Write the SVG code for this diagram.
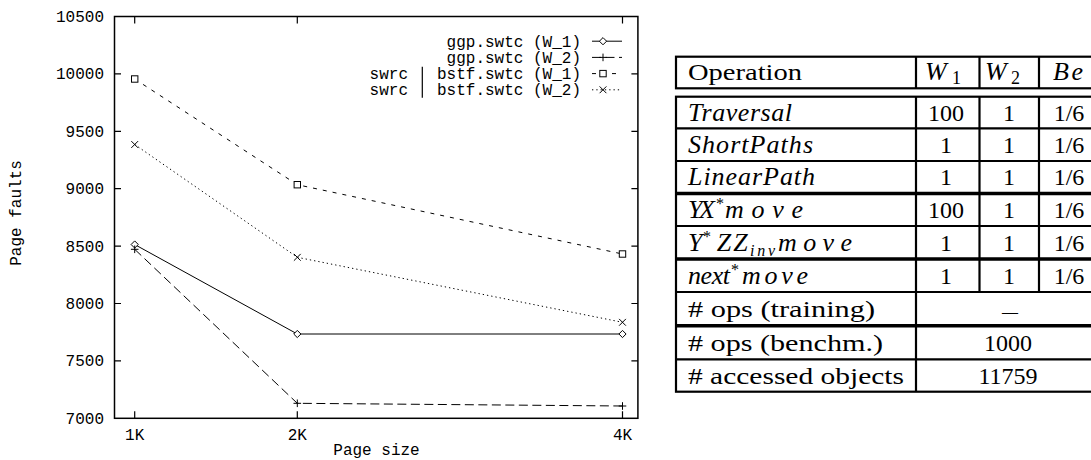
<svg xmlns="http://www.w3.org/2000/svg" xmlns:xlink="http://www.w3.org/1999/xlink" width="1091" height="460" viewBox="0 0 1091 460">
<style>
.mono{font-family:"Liberation Mono","Courier New",monospace;font-size:16px;fill:#000}
.ser{font-family:"Liberation Serif","Times New Roman",serif;font-size:24px;fill:#000}
.it{font-style:italic;font-size:26px}
.ax{fill:none;stroke:#000;stroke-width:1.5}
.tk{stroke:#000;stroke-width:1.2}
.l1{fill:none;stroke:#000;stroke-width:1}
.l2{fill:none;stroke:#000;stroke-width:1;stroke-dasharray:9,4.5}
.l3{fill:none;stroke:#000;stroke-width:1;stroke-dasharray:4,6}
.l4{fill:none;stroke:#000;stroke-width:1;stroke-dasharray:1.3,3}
.mk{fill:#fff;stroke:#000;stroke-width:1}
.tb{stroke:#000;stroke-width:2.2;fill:none}
.tbk{stroke:#000;stroke-width:3.6;fill:none}
</style>
<defs>
<path id="dia" d="M0,-3.6L3.6,0L0,3.6L-3.6,0Z" class="mk"/>
<path id="pls" d="M-3.8,0H3.8M0,-3.8V3.8" class="mk"/>
<rect id="sq" x="-3.2" y="-3.2" width="6.4" height="6.4" class="mk"/>
<path id="crs" d="M-3.4,-3.4L3.4,3.4M-3.4,3.4L3.4,-3.4" class="mk"/>
</defs>
<rect width="1091" height="460" fill="#fff"/>
<g id="plot">
<rect class="ax" x="114.5" y="16.5" width="523.4" height="401.8"/>
<g class="tk">
<path d="M114.5,73.9h6.5M114.5,131.3h6.5M114.5,188.7h6.5M114.5,246.1h6.5M114.5,303.5h6.5M114.5,360.9h6.5"/>
<path d="M637.9,73.9h-6.5M637.9,131.3h-6.5M637.9,188.7h-6.5M637.9,246.1h-6.5M637.9,303.5h-6.5M637.9,360.9h-6.5"/>
<path d="M134.7,418.3v-7M297.3,418.3v-7M622.5,418.3v-7M134.7,16.5v7M297.3,16.5v7M622.5,16.5v7"/>
</g>
<g class="mono" text-anchor="end">
<text x="104" y="22">10500</text>
<text x="104" y="79.4">10000</text>
<text x="104" y="136.8">9500</text>
<text x="104" y="194.2">9000</text>
<text x="104" y="251.6">8500</text>
<text x="104" y="309">8000</text>
<text x="104" y="366.4">7500</text>
<text x="104" y="423.8">7000</text>
</g>
<g class="mono" text-anchor="middle">
<text x="134.7" y="440">1K</text>
<text x="297.3" y="440">2K</text>
<text x="622.5" y="440">4K</text>
<text x="376.5" y="455">Page size</text>
<text transform="translate(20.5,213) rotate(-90)">Page faults</text>
</g>
</g>
<g id="series">
<polyline class="l1" points="134.7,244.5 297.3,334 622.5,334"/>
<polyline class="l2" points="134.7,249.3 297.3,403.3 622.5,406"/>
<polyline class="l3" points="134.7,79 297.3,184.7 622.5,254"/>
<polyline class="l4" points="134.7,144.5 297.3,257.3 622.5,322.3"/>
<use xlink:href="#dia" x="134.7" y="244.5"/><use xlink:href="#dia" x="297.3" y="334"/><use xlink:href="#dia" x="622.5" y="334"/>
<use xlink:href="#pls" x="134.7" y="249.3"/><use xlink:href="#pls" x="297.3" y="403.3"/><use xlink:href="#pls" x="622.5" y="406"/>
<use xlink:href="#sq" x="134.7" y="79"/><use xlink:href="#sq" x="297.3" y="184.7"/><use xlink:href="#sq" x="622.5" y="254"/>
<use xlink:href="#crs" x="134.7" y="144.5"/><use xlink:href="#crs" x="297.3" y="257.3"/><use xlink:href="#crs" x="622.5" y="322.3"/>
</g>
<g id="legend">
<g class="mono" text-anchor="end">
<text x="581" y="46.7">ggp.swtc (W_1)</text>
<text x="581" y="62.9">ggp.swtc (W_2)</text>
<text x="581" y="79.1">bstf.swtc (W_1)</text>
<text x="581" y="95.3">bstf.swtc (W_2)</text>
<text x="408" y="79.1">swrc</text>
<text x="408" y="95.3">swrc</text>
</g>
<path class="tk" d="M422.3,66.7V97.7" stroke-width="1"/>
<path class="l1" d="M592,41.2H622"/>
<path class="l2" d="M592,57.4H622"/>
<path class="l3" d="M592,73.6H622"/>
<path class="l4" d="M592,89.8H622"/>
<use xlink:href="#dia" x="603" y="41.2"/>
<use xlink:href="#pls" x="603" y="57.4"/>
<use xlink:href="#sq" x="603" y="73.6"/>
<use xlink:href="#crs" x="603" y="89.8"/>
</g>
<g id="table">
<rect class="tb" x="676" y="56.7" width="430" height="31.6"/>
<path class="tb" d="M916,56.7V88.3M979.5,56.7V88.3M1039,56.7V88.3"/>
<rect class="tb" x="676" y="96.7" width="430" height="295"/>
<path class="tb" d="M676,128.3H1106M676,161H1106M676,226H1106M676,292H1106M676,359.3H1106"/>
<path class="tbk" d="M676,193.5H1106M676,259H1106M676,325.7H1106"/>
<path class="tb" d="M916,96.7V391.7M979.5,96.7V292M1039,96.7V292"/>
<g class="ser">
<text x="688" y="80" textLength="114" lengthAdjust="spacingAndGlyphs">Operation</text>
<text x="925" y="80" class="it">W</text><text x="952" y="84" font-size="18">1</text>
<text x="985" y="80" class="it">W</text><text x="1011" y="84" font-size="18">2</text>
<text x="1053" y="80" class="it" textLength="30" lengthAdjust="spacing">Be</text>
<text x="688" y="120.5" class="it" textLength="104" lengthAdjust="spacing">Traversal</text>
<text x="688" y="152.7" class="it" textLength="125" lengthAdjust="spacing">ShortPaths</text>
<text x="688" y="185.3" class="it" textLength="127" lengthAdjust="spacing">LinearPath</text>
<text x="688" y="217.8" class="it" textLength="27" lengthAdjust="spacing">YX</text><text x="716" y="208.8" font-size="16">*</text>
<text x="725" y="217.8" class="it" textLength="78" lengthAdjust="spacing">move</text>
<text x="688" y="250.5" class="it">Y</text><text x="703" y="241.5" font-size="16">*</text>
<text x="716.7" y="250.5" class="it" textLength="31" lengthAdjust="spacing">ZZ</text>
<text x="750" y="255.5" class="it" style="font-size:16px" textLength="25" lengthAdjust="spacing">inv</text>
<text x="778" y="250.5" class="it" textLength="74" lengthAdjust="spacing">move</text>
<text x="688" y="283.5" class="it" textLength="42" lengthAdjust="spacing">next</text><text x="731" y="274.5" font-size="16">*</text>
<text x="742" y="283.5" class="it" textLength="66" lengthAdjust="spacing">move</text>
<text x="688" y="316.8" textLength="187" lengthAdjust="spacingAndGlyphs"># ops (training)</text>
<text x="688" y="350.5" textLength="195" lengthAdjust="spacingAndGlyphs"># ops (benchm.)</text>
<text x="688" y="383.5" textLength="216" lengthAdjust="spacingAndGlyphs"># accessed objects</text>
</g>
<g class="ser" text-anchor="middle">
<text x="946" y="120.5">100</text><text x="1009" y="120.5">1</text><text x="1069" y="120.5">1/6</text>
<text x="946" y="152.7">1</text><text x="1009" y="152.7">1</text><text x="1069" y="152.7">1/6</text>
<text x="946" y="185.3">1</text><text x="1009" y="185.3">1</text><text x="1069" y="185.3">1/6</text>
<text x="946" y="217.8">100</text><text x="1009" y="217.8">1</text><text x="1069" y="217.8">1/6</text>
<text x="946" y="250.5">1</text><text x="1009" y="250.5">1</text><text x="1069" y="250.5">1/6</text>
<text x="946" y="283.5">1</text><text x="1009" y="283.5">1</text><text x="1069" y="283.5">1/6</text>
<text x="1010" y="316.8" font-size="16">—</text>
<text x="1008" y="350.5">1000</text>
<text x="1008" y="383.5">11759</text>
</g>
</g>
</svg>
